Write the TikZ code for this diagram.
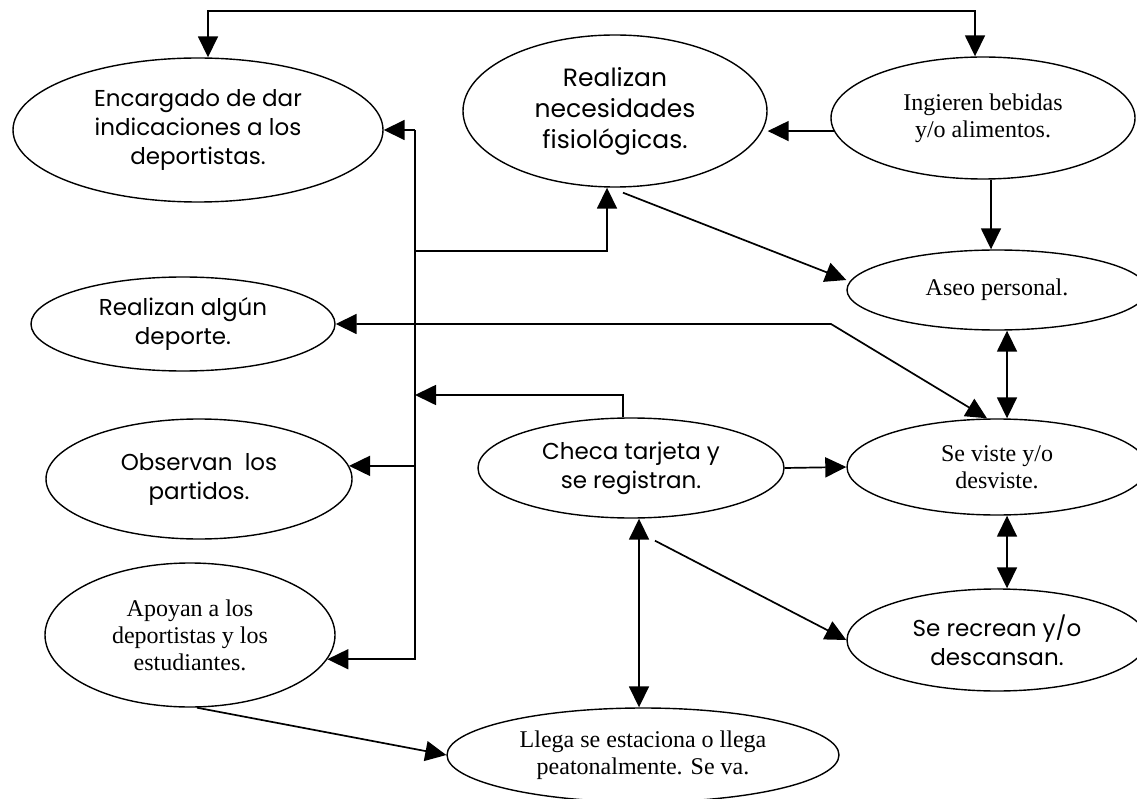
\documentclass[tikz,border=0pt]{standalone}
\usepackage{fontspec}
\setmainfont{Liberation Serif}
\newfontfamily\gsans{Poppins}
\usetikzlibrary{shapes.geometric,arrows.meta}
\tikzset{
  ell/.style={draw, ellipse, line width=1.4pt, inner sep=0pt, align=center},
  sf/.style={font=\gsans\fontsize{23}{29}\selectfont},
  sfbig/.style={font=\gsans\fontsize{25}{31}\selectfont},
  rm/.style={font=\fontsize{24}{27}\selectfont},
  con/.style={line width=1.7pt},
  arr/.style={con, -{Triangle[length=21pt,width=20pt]}},
  darr/.style={con, {Triangle[length=21pt,width=20pt]}-{Triangle[length=21pt,width=20pt]}},
}
\begin{document}
\begin{tikzpicture}[x=1pt,y=-1pt]
\useasboundingbox (0,0) rectangle (1137,799);
% nodes
\node[ell, sf, minimum width=370pt, minimum height=144pt] (enc) at (198,130) {Encargado de dar\\indicaciones a los\\deportistas.};
\node[ell, sfbig, minimum width=304pt, minimum height=152pt] (nec) at (615,111) {Realizan\\necesidades\\fisiológicas.};
\node[ell, rm, minimum width=304pt, minimum height=122pt] (ing) at (983,118) {Ingieren bebidas\\y/o alimentos.};
\node[ell, rm, minimum width=300pt, minimum height=80pt] (aseo) at (997,290) {Aseo personal.};
\node[ell, sf, minimum width=304pt, minimum height=94pt] (dep) at (183,324) {Realizan algún\\deporte.};
\node[ell, rm, minimum width=300pt, minimum height=96pt] (viste) at (997,467) {Se viste y/o\\desviste.};
\node[ell, sf, minimum width=306pt, minimum height=120pt] (obs) at (199,479) {Observan\ \ los\\partidos.};
\node[ell, sf, minimum width=306pt, minimum height=100pt] (checa) at (631,468) {Checa tarjeta y\\se registran.};
\node[ell, sf, minimum width=300pt, minimum height=102pt] (recr) at (997,640) {Se recrean y/o\\descansan.};
\node[ell, rm, minimum width=290pt, minimum height=144pt] (apo) at (190,635) {Apoyan a los\\deportistas y los\\estudiantes.};
\node[ell, rm, minimum width=392pt, minimum height=94pt] (llega) at (643,755) {Llega se estaciona o llega\\peatonalmente. Se va.};
% coordinates
\coordinate (t1) at (208,11);
\coordinate (t2) at (975,11);
\coordinate (vx) at (415,130);
\coordinate (b1) at (415,251);
\coordinate (b2) at (415,395);
\coordinate (k1) at (831,324);
% connectors
\draw[darr] ([xshift=10pt]enc.north) -- (t1) -- (t2) -- ([xshift=-8pt]ing.north);
\draw[arr] (ing.185) -- (ing.185 -| nec.east);
\draw[arr] (vx) -- (enc.east);
\draw[arr] (vx) -- (apo.-10 -| vx) -- (apo.-10);
\draw[arr] (b1) -| ([xshift=-8pt]nec.south);
\draw[arr] ([xshift=-8pt]checa.north) |- (b2);
\draw[arr] (obs.5 -| vx) -- (obs.5);
\draw[darr] (dep.east) -- (k1) -- ([xshift=-10pt]viste.north);
\draw[arr] ([xshift=8pt,yshift=-5pt]nec.south) -- ([yshift=10pt]aseo.west);
\draw[arr] ([xshift=8pt]ing.south) -- ([xshift=8pt]ing.south |- aseo.north);
\draw[darr] ([xshift=10pt]aseo.south) -- ([xshift=10pt]viste.north);
\draw[darr] ([xshift=10pt]viste.south) -- ([xshift=10pt]recr.north);
\draw[arr] (checa.east) -- (viste.west);
\draw[arr] ([xshift=24pt,yshift=-22pt]checa.south) -- (recr.west);
\draw[darr] ([xshift=8pt]checa.south) -- ([xshift=8pt]checa.south |- llega.north);
\draw[arr] ([xshift=7pt]apo.south) -- (llega.west);
\end{tikzpicture}
\end{document}
